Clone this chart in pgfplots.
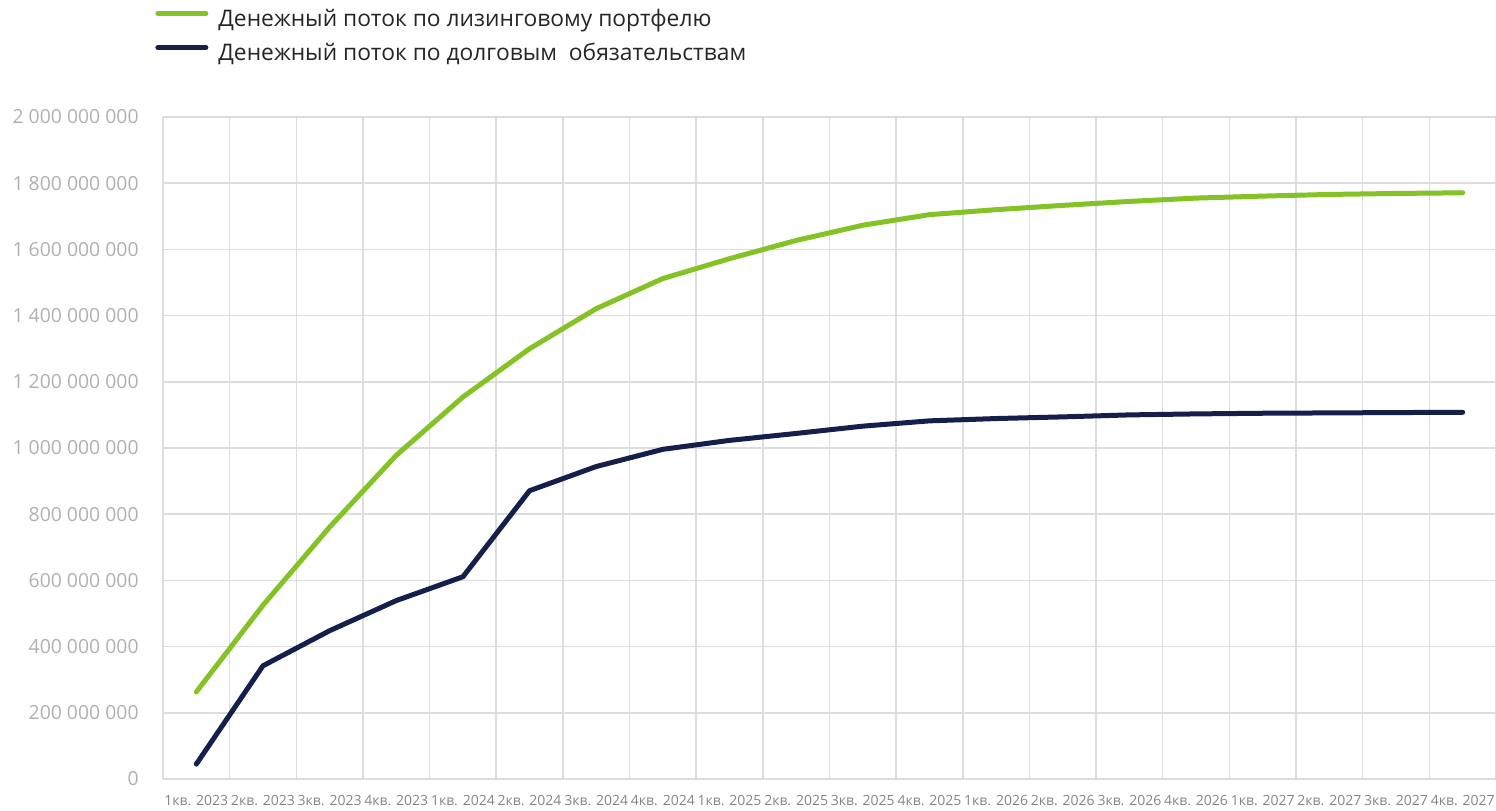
\documentclass[border=0pt]{standalone}
\usepackage{fontspec}
\setmainfont{Open Sans}
\usepackage{pgfplots}
\pgfplotsset{compat=1.18}
\definecolor{leasegreen}{HTML}{84C225}
\definecolor{debtnavy}{HTML}{141F4C}
\definecolor{gridgray}{HTML}{DDDDDD}
\definecolor{ylabgray}{HTML}{B0B0B0}
\definecolor{xlabgray}{HTML}{858585}
\begin{document}
\begin{tikzpicture}
\useasboundingbox (-81.5pt,-15.75pt) rectangle (666.5pt,389.5pt);
\begin{axis}[
	at={(0,0)}, anchor=south west,
	width=666.5pt, height=331pt, scale only axis,
	xmin=-0.5, xmax=19.5,
	ymin=0, ymax=2000000000,
	scaled y ticks=false,
	xtick={0,...,19},
	xticklabels={1кв. 2023,2кв. 2023,3кв. 2023,4кв. 2023,1кв. 2024,2кв. 2024,3кв. 2024,4кв. 2024,1кв. 2025,2кв. 2025,3кв. 2025,4кв. 2025,1кв. 2026,2кв. 2026,3кв. 2026,4кв. 2026,1кв. 2027,2кв. 2027,3кв. 2027,4кв. 2027},
	minor xtick={-0.5,0.5,...,19.5},
	ytick={0,200000000,400000000,600000000,800000000,1000000000,1200000000,1400000000,1600000000,1800000000,2000000000},
	yticklabels={0,200 000 000,400 000 000,600 000 000,800 000 000,1 000 000 000,1 200 000 000,1 400 000 000,1 600 000 000,1 800 000 000,2 000 000 000},
	xminorgrids=true, ymajorgrids=true, xmajorgrids=false,
	grid style={gridgray, line width=0.75pt},
	minor grid style={gridgray, line width=0.75pt},
	major tick length=0pt, minor tick length=0pt,
	axis line style={draw=none},
	yticklabel style={font=\fontsize{9.7}{11}\selectfont, text=ylabgray, inner sep=0pt, anchor=east, xshift=-12pt},
	xticklabel style={font=\fontsize{7}{9}\selectfont, text=xlabgray, inner sep=0pt, anchor=base, yshift=-13.25pt},
	legend cell align=left,
	legend style={draw=none, fill=none, inner sep=0pt,
		at={(rel axis cs:0,1)}, anchor=north west, xshift=-4pt, yshift=53.5pt,
		row sep=6pt, font=\fontsize{11.4}{13}\selectfont, text=black!85,
		nodes={inner sep=0pt, text height=8pt, text depth=3pt},
		/tikz/every odd column/.append style={column sep=5pt}},
	legend image code/.code={\draw[#1, line width=2.5pt, line cap=round] (1.25pt,3.9pt) -- (25.25pt,3.9pt);},
]
\addplot[leasegreen, line width=2.5pt, line cap=round, line join=round]
coordinates{
	(0, 263000000)
	(1, 525000000)
	(2, 761000000)
	(3, 978000000)
	(4, 1154000000)
	(5, 1300000000)
	(6, 1421000000)
	(7, 1512000000)
	(8, 1572000000)
	(9, 1627000000)
	(10, 1673000000)
	(11, 1705000000)
	(12, 1720000000)
	(13, 1733000000)
	(14, 1745000000)
	(15, 1755000000)
	(16, 1761000000)
	(17, 1766000000)
	(18, 1769000000)
	(19, 1771000000)
};
\addlegendentry{Денежный поток по лизинговому портфелю}

\addplot[debtnavy, line width=2.5pt, line cap=round, line join=round]
coordinates{
	(0, 45000000)
	(1, 342000000)
	(2, 448000000)
	(3, 539000000)
	(4, 611000000)
	(5, 871000000)
	(6, 944000000)
	(7, 996000000)
	(8, 1023000000)
	(9, 1044000000)
	(10, 1066000000)
	(11, 1082000000)
	(12, 1089000000)
	(13, 1094000000)
	(14, 1100000000)
	(15, 1103000000)
	(16, 1105000000)
	(17, 1106000000)
	(18, 1107000000)
	(19, 1108000000)
};
\addlegendentry{Денежный поток по долговым\ \ обязательствам}
\end{axis}
\end{tikzpicture}
\end{document}
